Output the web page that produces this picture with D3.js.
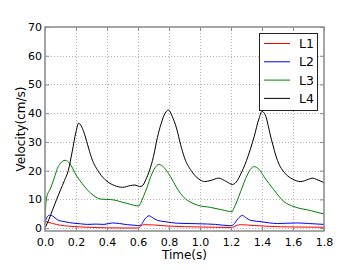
<!DOCTYPE html>
<html>
<head>
<meta charset="utf-8">
<script src="https://cdn.jsdelivr.net/npm/d3@7"></script>
<style>
    body { margin: 0; background: #fff; }
    svg { display: block; font-family: "DejaVu Sans", sans-serif; }
</style>
</head>
<body>
<svg id="chart" width="360" height="270"></svg>
<script>
// tick labels
var xTicks = [0, 0.2, 0.4, 0.6, 0.8, 1.0, 1.2, 1.4, 1.6, 1.8];
var yTicks = [0, 10, 20, 30, 40, 50, 60, 70];
var seriesNames = ["L1", "L2", "L3", "L4"];
var seriesColors = ["#ff0000", "#0000ff", "#008000", "#000000"];

// [time, velocity]
var l1 = [[0, 2.4], [0.05, 1.6], [0.1, 1.0], [0.15, 0.7], [0.2, 0.5], [0.3, 0.25], [0.4, 0.1], [0.5, 0.05],
    [0.6, 0.05], [0.608, 0.1], [0.62, 0.9], [0.64, 1.2], [0.7, 1.1], [0.8, 0.7], [0.9, 0.5], [1.0, 0.4],
    [1.1, 0.3], [1.2, 0.2], [1.21, 0.3], [1.24, 1.0], [1.26, 1.2], [1.35, 0.9], [1.45, 0.6], [1.6, 0.4], [1.8, 0.3]];

var l2 = [[0, 2], [0.015, 4], [0.03, 4.5], [0.05, 4.2], [0.08, 2.9], [0.13, 2.2], [0.187, 1.7], [0.23, 1.5],
    [0.273, 1.3], [0.33, 1.4], [0.38, 1.3], [0.434, 1.8], [0.48, 1.6], [0.531, 1.2], [0.58, 1.0], [0.606, 0.8],
    [0.62, 1.2], [0.645, 3.2], [0.671, 4.3], [0.695, 3.6], [0.725, 2.7], [0.78, 2.2], [0.854, 1.7], [0.93, 1.6],
    [1.0, 1.5], [1.1, 1.3], [1.2, 0.8], [1.215, 1.2], [1.245, 3.3], [1.273, 4.4], [1.3, 3.5], [1.327, 2.7],
    [1.4, 2.2], [1.45, 1.8], [1.5, 1.6], [1.56, 1.7], [1.63, 1.8], [1.7, 1.6], [1.8, 1.3]];

var l3 = [[0, 1.5], [0.005, 8], [0.01, 10.5], [0.037, 14], [0.06, 17.5], [0.08, 20.8], [0.1, 22.6], [0.13, 23.6],
    [0.16, 22.5], [0.2, 18.5], [0.24, 15.5], [0.273, 13.3], [0.31, 11.5], [0.36, 10.1], [0.4, 10], [0.445, 9.8],
    [0.5, 9], [0.53, 8.6], [0.57, 8], [0.606, 7.7], [0.615, 8.5], [0.635, 11], [0.66, 14.4], [0.682, 17.9],
    [0.71, 21], [0.735, 22.2], [0.76, 21.5], [0.81, 17.9], [0.85, 14], [0.897, 10.6], [0.94, 9], [0.983, 8.0],
    [1.069, 7.2], [1.14, 6.4], [1.208, 5.7], [1.215, 6.5], [1.24, 9.5], [1.262, 12.7], [1.305, 18.5], [1.33, 20.8],
    [1.349, 21.4], [1.38, 20.5], [1.413, 17.9], [1.477, 13.3], [1.542, 9.2], [1.606, 7.5], [1.714, 6.1], [1.8, 4.9]];

var l4 = [[0, 0], [0.025, 3], [0.05, 6.5], [0.075, 10], [0.1, 13.3], [0.125, 16.5], [0.15, 20], [0.175, 26.5],
    [0.2, 33.5], [0.217, 36.5], [0.25, 33.5], [0.275, 29], [0.3, 24.5], [0.35, 19.3], [0.4, 16.3], [0.45, 14.8],
    [0.5, 14.2], [0.55, 14.8], [0.58, 15], [0.61, 14.5], [0.625, 14.6], [0.65, 16.8], [0.7, 25], [0.725, 31.5],
    [0.75, 36.5], [0.775, 40], [0.797, 41.1], [0.82, 39], [0.85, 34.5], [0.875, 29], [0.9, 24.5], [0.95, 19.5],
    [1.0, 16.8], [1.03, 16.2], [1.07, 16.6], [1.12, 17.4], [1.17, 16.2], [1.21, 15.2], [1.24, 16.5], [1.26, 18.5],
    [1.3, 23.5], [1.35, 32], [1.38, 38], [1.40, 40.6], [1.42, 39.5], [1.46, 31], [1.5, 23.5], [1.55, 19],
    [1.6, 17], [1.65, 16.2], [1.7, 17], [1.725, 17.4], [1.75, 17], [1.8, 15.8]];

var allSeries = [l1, l2, l3, l4];

var svg = d3.select("#chart"),
    plotLeft = 45, plotRight = 324, plotTop = 27, plotBottom = 231;

var x = d3.scaleLinear().domain([0, 1.8]).range([plotLeft, plotRight]);
var y = d3.scaleLinear().domain([-1, 70]).range([plotBottom, plotTop]);

// dotted grid
var grid = svg.append("g").attr("class", "grid");
grid.selectAll(".gx").data(xTicks.slice(1, -1)).enter().append("line")
    .attr("x1", function (d) { return Math.round(x(d)) + 0.5; })
    .attr("x2", function (d) { return Math.round(x(d)) + 0.5; })
    .attr("y1", plotTop).attr("y2", plotBottom);
grid.selectAll(".gy").data(yTicks.slice(0, -1)).enter().append("line")
    .attr("y1", function (d) { return Math.round(y(d)) + 0.5; })
    .attr("y2", function (d) { return Math.round(y(d)) + 0.5; })
    .attr("x1", plotLeft).attr("x2", plotRight);
grid.selectAll("line")
    .attr("stroke", "#b0b0b0")
    .attr("stroke-width", 1)
    .attr("stroke-dasharray", "1,2");

// curves
var line = d3.line()
    .x(function (d) { return x(d[0]); })
    .y(function (d) { return y(d[1]); })
    .curve(d3.curveMonotoneX);

svg.append("defs").append("clipPath").attr("id", "clip")
    .append("rect").attr("x", plotLeft).attr("y", plotTop)
    .attr("width", plotRight - plotLeft).attr("height", plotBottom - plotTop);

svg.append("g").attr("clip-path", "url(#clip)")
    .selectAll("path").data(allSeries).enter().append("path")
    .attr("fill", "none")
    .attr("stroke", function (d, i) { return seriesColors[i]; })
    .attr("stroke-width", 1)
    .attr("d", line);

// axes: inward ticks on all four sides, no domain path
function styleAxis(g) {
    g.select(".domain").remove();
    g.selectAll(".tick line").attr("stroke", "#888");
    g.selectAll(".tick text").attr("fill", "#000").attr("font-size", 11)
        .attr("font-family", "DejaVu Sans, sans-serif");
}

svg.append("g").attr("transform", "translate(0," + plotBottom + ")")
    .call(d3.axisBottom(x).tickValues(xTicks).tickFormat(d3.format(".1f")).tickSize(-4).tickPadding(7))
    .call(styleAxis);
svg.append("g").attr("transform", "translate(0," + plotTop + ")")
    .call(d3.axisTop(x).tickValues(xTicks).tickFormat("").tickSize(-4))
    .call(styleAxis);
svg.append("g").attr("transform", "translate(" + plotLeft + ",0)")
    .call(d3.axisLeft(y).tickValues(yTicks).tickFormat(d3.format("d")).tickSize(-4).tickPadding(3))
    .call(styleAxis);
svg.append("g").attr("transform", "translate(" + plotRight + ",0)")
    .call(d3.axisRight(y).tickValues(yTicks).tickFormat("").tickSize(-4))
    .call(styleAxis);

// frame
svg.append("rect")
    .attr("x", plotLeft).attr("y", plotTop)
    .attr("width", plotRight - plotLeft).attr("height", plotBottom - plotTop)
    .attr("fill", "none")
    .attr("stroke", "#909090")
    .attr("stroke-width", 1.6);

// axis labels
svg.append("text")
    .attr("x", (plotLeft + plotRight) / 2).attr("y", 259)
    .attr("text-anchor", "middle")
    .attr("font-size", 12)
    .text("Time(s)");

svg.append("text")
    .attr("transform", "translate(25," + (plotTop + plotBottom) / 2 + ") rotate(-90)")
    .attr("text-anchor", "middle")
    .attr("font-size", 12)
    .text("Velocity(cm/s)");

// legend
var legend = svg.append("g").attr("transform", "translate(259,33)");
legend.append("rect")
    .attr("x", 0.5).attr("y", 0.5).attr("width", 58).attr("height", 77)
    .attr("fill", "#fff").attr("stroke", "#222").attr("stroke-width", 1);

var entries = legend.selectAll(".entry").data(seriesNames).enter().append("g")
    .attr("transform", function (d, i) { return "translate(0," + (10.5 + i * 18.3) + ")"; });
entries.append("line")
    .attr("x1", 5).attr("x2", 31)
    .attr("stroke", function (d, i) { return seriesColors[i]; })
    .attr("stroke-width", 1);
entries.append("text")
    .attr("x", 40).attr("y", 4.5)
    .attr("font-size", 12.5)
    .text(function (d) { return d; });
</script>
</body>
</html>
